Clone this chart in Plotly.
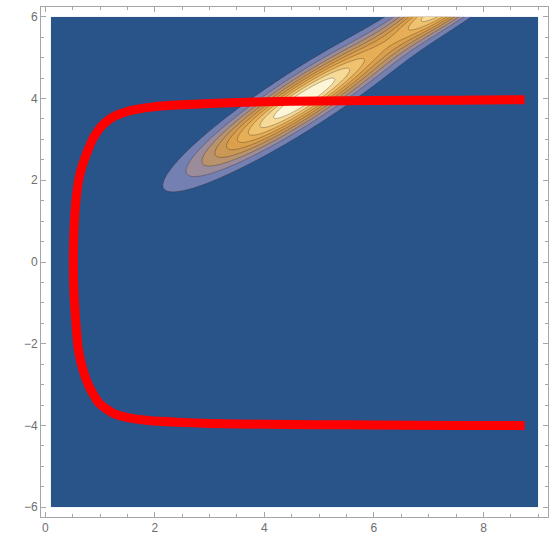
import numpy as np
import plotly.graph_objects as go

# ---- red curve ----
curve_x = [8.75, 7.5, 6.0, 5.0, 4.0, 3.0, 2.4, 1.94, 1.57, 1.27, 1.06, 0.90, 0.785, 0.695, 0.62, 0.56, 0.525, 0.512,
           0.525, 0.56, 0.60, 0.66, 0.74, 0.84, 1.0, 1.24, 1.51, 1.88, 2.4, 3.0, 4.0, 5.0, 6.0, 7.5, 8.75]
curve_y = [3.97, 3.96, 3.95, 3.94, 3.92, 3.88, 3.84, 3.79, 3.71, 3.57, 3.37, 3.09, 2.76, 2.43, 2.07, 1.5, 0.8, 0.0,
           -0.8, -1.5, -2.1, -2.5, -2.85, -3.15, -3.48, -3.70, -3.81, -3.88, -3.92, -3.95, -3.97, -3.98, -3.99, -4.0, -4.0]

# ---- contour surface parameters ----
x_domain = [0.1, 9.0]
y_domain = [-6.0, 6.0]
peak_center = [4.72, 4.0]
ridge_slope = 0.88
peak1_len, peak1_wid = 1.575, 0.30
peak2_pos, peak2_len, peak2_wid, peak2_amp = 3.6, 0.9, 0.24, 0.85
levels = [0.1, 0.9, 0.1]
band_colors = ["#29548A", "#7480B2", "#9A8C9A", "#B8936C", "#CC9856", "#DAA04C",
               "#E6AE56", "#EEC26E", "#F6DA98", "#FDF6D6"]

xs = np.linspace(x_domain[0], x_domain[1], 400)
ys = np.linspace(y_domain[0], y_domain[1], 400)
X, Y = np.meshgrid(xs, ys)
th = np.arctan(ridge_slope)
U = (X - peak_center[0]) * np.cos(th) + (Y - peak_center[1]) * np.sin(th)
V = -(X - peak_center[0]) * np.sin(th) + (Y - peak_center[1]) * np.cos(th)
Z = (np.exp(-U**2 / (2 * peak1_len**2) - V**2 / (2 * peak1_wid**2))
     + peak2_amp * np.exp(-(U - peak2_pos)**2 / (2 * peak2_len**2) - V**2 / (2 * peak2_wid**2)))

cs = []
n = len(band_colors)
for i, c in enumerate(band_colors):
    cs.append([i / n, c])
    cs.append([(i + 1) / n, c])

fig = go.Figure()
fig.add_trace(go.Contour(
    x=xs, y=ys, z=Z,
    colorscale=cs, showscale=False,
    contours=dict(start=levels[0], end=levels[1], size=levels[2], coloring="fill"),
    line=dict(color="rgba(50,35,25,0.4)", width=0.8, smoothing=1),
    hoverinfo="skip",
))
fig.add_trace(go.Scatter(
    x=curve_x, y=curve_y, mode="lines",
    line=dict(color="#FF0000", width=9, shape="spline", smoothing=0.6),
    hoverinfo="skip", showlegend=False,
))

axis_common = dict(
    showline=True, linecolor="#A6A6A6", linewidth=1, mirror="ticks",
    ticks="inside", ticklen=5, tickcolor="#A6A6A6", tickwidth=1,
    showgrid=False, zeroline=False, automargin=False,
    tickfont=dict(family="Liberation Sans, Arial, sans-serif", size=12, color="#6E6E6E"),
    minor=dict(ticks="inside", ticklen=3, tickcolor="#A6A6A6", dtick=0.5, showgrid=False),
)
fig.update_xaxes(range=[-0.078, 9.178], tickvals=[0, 2, 4, 6, 8], **axis_common)
fig.update_yaxes(range=[-6.24, 6.24], tickvals=[-6, -4, -2, 0, 2, 4, 6], **axis_common)

fig.update_layout(
    width=557, height=537,
    margin=dict(l=41, r=9, t=7, b=20, autoexpand=False),
    paper_bgcolor="white", plot_bgcolor="white",
    showlegend=False,
)
fig.write_html("out.html", config={"displayModeBar": False, "staticPlot": True},
               post_script="document.body.style.margin='0px';document.body.style.overflow='hidden';")
